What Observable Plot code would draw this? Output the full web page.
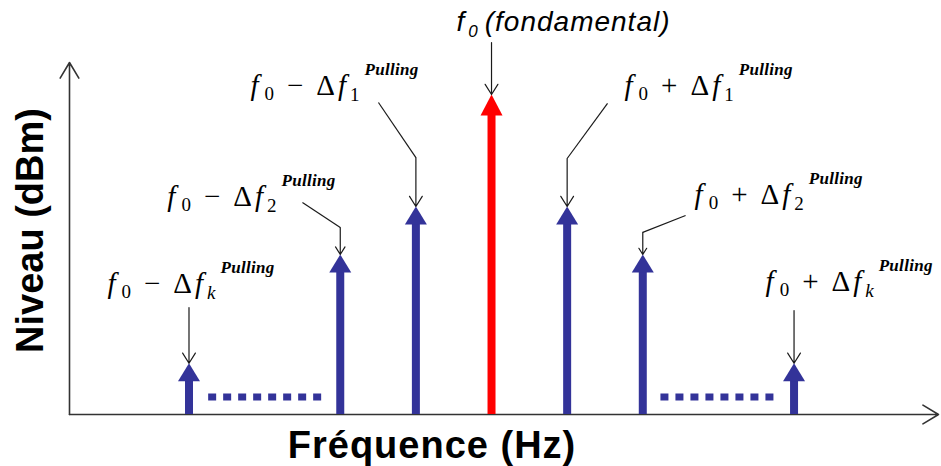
<!DOCTYPE html>
<html><head><meta charset="utf-8">
<script src="https://cdn.jsdelivr.net/npm/d3@7"></script>
<script src="https://cdn.jsdelivr.net/npm/@observablehq/plot@0.6"></script>
<style>html,body{margin:0;padding:0;background:#fff}#chart{width:941px;height:466px}</style>
</head><body><div id="chart"></div>
<script>
// ---- data: spectral lines (offset in units of Δf, level in arbitrary dB scale)
const names   = ["-k", "-2", "-1", "0", "+1", "+2", "+k"];
const offsets = [-4, -2, -1, 0, 1, 2, 4];
const levels  = [16, 50, 65, 100, 65, 50, 16];
// label parts
const signs   = ["−", "−", "−", "", "+", "+", "+"];
const indices = ["k", "2", "1", "0", "1", "2", "k"];
// "..." gaps between lines
const gapFrom = [-3.74, 2.24];
const gapTo   = [-2.24, 3.74];
const gapLevel = 5.5;
// annotation layout (data units)
const labelX  = [-5.079, -4.286, -3.188, -0.463, 1.759, 2.685, 3.624];
const labelY  = [38.1, 65.3, 99.7, 120, 99.7, 65.9, 38.75];
const leadX0  = [-4, -2.5, -1.495, 0, 1.534, 2.566, 4];
const leadY0  = [33.4, 66.25, 97.5, 116.25, 97.2, 62.2, 32.5];
const elbowY  = [null, 58.4, 80.3, null, 80, 56.9, null];
// axis titles
const xTitle = "Fréquence (Hz)";
const yTitle = "Niveau (dBm)";

const xDomain = [-5.58, 5.91];
const yDomain = [0, 110];
const BLUE = "#333399", RED = "#ff0000", INK = "#1a1a1a";

const spikes = offsets.map((x, i) => ({
  name: names[i], x, level: levels[i], fund: x === 0,
  sign: signs[i], idx: indices[i],
  lx: labelX[i], ly: labelY[i], x0: leadX0[i], y0: leadY0[i], ey: elbowY[i]
}));
const gaps = gapFrom.map((a, i) => ({x1: a, x2: gapTo[i]}));
const axes = [
  {x1: xDomain[0], y1: yDomain[0], x2: xDomain[1], y2: yDomain[0]},
  {x1: xDomain[0], y1: yDomain[0], x2: xDomain[0], y2: yDomain[1]}
];

const headBlue = {draw(c) { c.moveTo(0, 0); c.lineTo(11, 18); c.lineTo(-11, 18); c.closePath(); }};
const headRed  = {draw(c) { c.moveTo(0, 0); c.lineTo(11, 21); c.lineTo(-11, 21); c.closePath(); }};

const withElbow = spikes.filter(d => d.ey != null);

const plot = Plot.plot({
  width: 941, height: 466,
  marginLeft: 69, marginRight: 3, marginTop: 62, marginBottom: 52,
  x: {domain: xDomain, axis: null},
  y: {domain: yDomain, axis: null},
  style: {background: "white", overflow: "visible"},
  marks: [
    // axes with open arrowheads
    Plot.arrow(axes, {x1: "x1", y1: "y1", x2: "x2", y2: "y2", stroke: "#333", strokeWidth: 1.6, headLength: 17, headAngle: 62}),
    // stems (y1 = top end, so insetTop shortens it under the head)
    Plot.ruleX(spikes, {filter: d => !d.fund, x: "x", y1: "level", y2: 0, stroke: BLUE, strokeWidth: 8, insetTop: 14}),
    Plot.ruleX(spikes, {filter: d => d.fund, x: "x", y1: "level", y2: 0, stroke: RED, strokeWidth: 8, insetTop: 16}),
    // heads
    Plot.dot(spikes, {filter: d => !d.fund, x: "x", y: "level", symbol: headBlue, fill: BLUE, stroke: "none"}),
    Plot.dot(spikes, {filter: d => d.fund, x: "x", y: "level", symbol: headRed, fill: RED, stroke: "none"}),
    // dotted gaps
    Plot.ruleY(gaps, {x1: "x1", x2: "x2", y: () => gapLevel, stroke: BLUE, strokeWidth: 7, strokeDasharray: "8,7"}),
    // leader lines
    Plot.link(withElbow, {x1: "x0", y1: "y0", x2: "x", y2: "ey", stroke: INK, strokeWidth: 1.2}),
    Plot.arrow(spikes, {x1: d => d.ey != null ? d.x : d.x0, y1: d => d.ey != null ? d.ey : d.y0,
      x2: "x", y2: "level", stroke: INK, strokeWidth: 1.2, headLength: 15, headAngle: 64}),
    // labels (rebuilt as rich text below)
    Plot.text(spikes, {x: "lx", y: "ly", text: d => d.name, textAnchor: "start", lineAnchor: "bottom", ariaDescription: "math", fill: "black"}),
    // axis titles
    Plot.text([xTitle], {frameAnchor: "bottom", text: d => d, textAnchor: "middle", dx: -72, dy: 43, lineAnchor: "bottom",
      fontSize: 38, fontWeight: "bold", fontFamily: "'Liberation Sans', Arial, sans-serif", fill: "black", ariaDescription: "xtitle"}),
    Plot.text([yTitle], {frameAnchor: "left", text: d => d, textAnchor: "middle", dx: -27, dy: -8, rotate: -90, lineAnchor: "bottom",
      fontSize: 38, fontWeight: "bold", fontFamily: "'Liberation Sans', Arial, sans-serif", fill: "black"})
  ]
});

document.getElementById("chart").appendChild(plot);

// rich-text labels
const svg = d3.select(plot);
svg.selectAll('g[aria-description="xtitle"] text').attr("letter-spacing", 1);
svg.selectAll('g[aria-description="math"] text').each(function(_, i) {
  const d = spikes[i];
  const t = d3.select(this);
  t.attr("y", null).attr("dy", null).text(null);
  const add = (s, o) => { const ts = t.append("tspan").text(s); for (const k in o) ts.attr(k, o[k]); };
  if (d.fund) {
    t.attr("font-family", "'Liberation Sans', Arial, sans-serif").attr("font-style", "italic");
    add("f", {"font-size": 28});
    add("0", {"font-size": 17, dx: 4, dy: 6});
    add("(fondamental)", {"font-size": 28, dx: 7, dy: -6, "letter-spacing": 1});
  } else {
    t.attr("font-family", "'Liberation Serif', 'Times New Roman', serif");
    add("f", {"font-size": 29, "font-style": "italic"});
    add("0", {"font-size": 19, dx: 6, dy: 5});
    add(d.sign, {"font-size": 29, dx: 13, dy: -5});
    add("Δ", {"font-size": 29, dx: 13});
    add("f", {"font-size": 29, "font-style": "italic", dx: 3});
    add(d.idx, {"font-size": 19, dx: 4, dy: 6, "font-style": d.idx === "k" ? "italic" : "normal"});
    add("Pulling", {"font-size": 17, "font-weight": "bold", "font-style": "italic", dx: 5, dy: -26, "letter-spacing": 0.3});
  }
});
</script>
</body></html>
